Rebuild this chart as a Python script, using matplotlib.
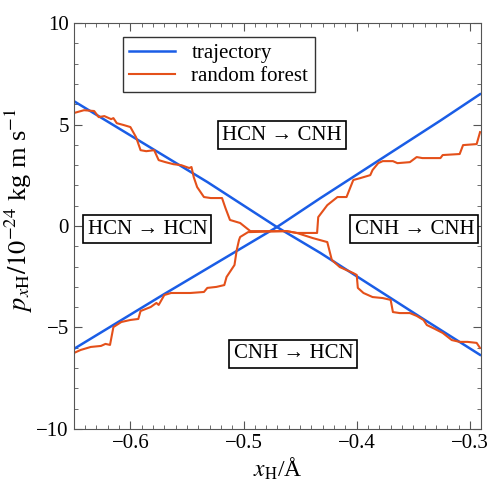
import matplotlib
matplotlib.use('Agg')
import matplotlib.pyplot as plt
from matplotlib.ticker import MultipleLocator

plt.rcParams['font.family'] = ['Liberation Serif', 'DejaVu Serif']
plt.rcParams['mathtext.fontset'] = 'stix'

# trajectory (straight-ish lines)
traj1_x = [-0.65, -0.532, -0.4705, -0.432, -0.344, -0.291]
traj1_y = [6.16, 2.17, -0.05, -1.33, -4.48, -6.35]
traj2_x = [-0.65, -0.570, -0.4705, -0.432, -0.326, -0.291]
traj2_y = [-6.06, -3.35, -0.05, 1.38, 5.2, 6.5]

# random forest predictions
rf1_x = [-0.650, -0.641, -0.632, -0.628, -0.623, -0.617, -0.615, -0.612, -0.606, -0.600,
         -0.595, -0.591, -0.586, -0.579, -0.575, -0.569, -0.562, -0.555, -0.548, -0.546,
         -0.544, -0.541, -0.535, -0.529, -0.519, -0.516, -0.512, -0.503, -0.494, -0.462,
         -0.453, -0.439, -0.426, -0.422, -0.415, -0.409, -0.403, -0.400, -0.399, -0.394,
         -0.386, -0.377, -0.370, -0.368, -0.362, -0.353, -0.347, -0.341, -0.338, -0.331,
         -0.324, -0.316, -0.309, -0.302, -0.294, -0.291]
rf1_y = [5.57, 5.71, 5.67, 5.37, 5.42, 5.27, 5.32, 5.07, 4.98, 4.88,
         4.38, 3.74, 3.69, 3.74, 3.25, 3.15, 3.05, 3.00, 2.86, 2.91,
         2.41, 1.92, 1.43, 1.38, 1.38, 0.89, 0.30, 0.15, -0.25, -0.25,
         -0.34, -0.59, -0.79, -1.67, -2.02, -2.17, -2.32, -2.41, -3.05, -3.30,
         -3.50, -3.55, -3.64, -4.24, -4.29, -4.29, -4.43, -4.63, -4.88, -5.07,
         -5.27, -5.62, -5.71, -5.71, -5.76, -6.01]

rf2_x = [-0.650, -0.644, -0.635, -0.626, -0.622, -0.618, -0.615, -0.608, -0.600, -0.593,
         -0.591, -0.582, -0.577, -0.575, -0.570, -0.564, -0.559, -0.547, -0.535, -0.532,
         -0.524, -0.517, -0.515, -0.508, -0.506, -0.504, -0.503, -0.496, -0.462, -0.453,
         -0.435, -0.434, -0.426, -0.417, -0.409, -0.403, -0.397, -0.388, -0.386, -0.381,
         -0.377, -0.368, -0.364, -0.353, -0.347, -0.342, -0.326, -0.324, -0.309, -0.306,
         -0.294, -0.291]
rf2_y = [-6.26, -6.11, -5.96, -5.91, -5.81, -5.86, -4.98, -4.73, -4.63, -4.58,
         -4.19, -3.99, -3.79, -3.89, -3.40, -3.30, -3.30, -3.30, -3.25, -3.05,
         -3.00, -2.91, -2.51, -1.92, -1.18, -0.69, -0.54, -0.30, -0.25, -0.34,
         -0.34, 0.44, 1.03, 1.43, 1.43, 2.27, 2.36, 2.51, 2.76, 3.10,
         3.20, 3.20, 3.10, 3.15, 3.40, 3.35, 3.35, 3.50, 3.55, 3.99,
         4.04, 4.63]

regions = ['HCN → CNH', 'HCN → HCN', 'CNH → CNH', 'CNH → HCN']
region_x = [-0.466, -0.585, -0.349, -0.456]
region_y = [4.48, -0.15, -0.15, -6.3]

blue = '#1a5de6'
orange = '#e4501a'
grey = '#555555'

fig = plt.figure(figsize=(4.92, 4.83), dpi=100)
ax = fig.add_axes([0.150, 0.112, 0.828, 0.840])

ax.plot(traj1_x, traj1_y, color=blue, lw=1.8, label='trajectory')
ax.plot(traj2_x, traj2_y, color=blue, lw=1.8)
ax.plot(rf1_x, rf1_y, color=orange, lw=1.5, label='random forest')
ax.plot(rf2_x, rf2_y, color=orange, lw=1.5)

for t, x, y in zip(regions, region_x, region_y):
    ax.text(x, y, t, fontsize=15, ha='center', va='center',
            bbox=dict(boxstyle='square,pad=0.2', fc='white', ec='black', lw=1.2))

ax.set_xlim(-0.65, -0.29)
ax.set_ylim(-10, 10)
ax.set_xticks([-0.6, -0.5, -0.4, -0.3])
ax.set_yticks([-10, -5, 0, 5, 10])
ax.xaxis.set_minor_locator(MultipleLocator(0.01))
ax.yaxis.set_minor_locator(MultipleLocator(1))
ax.tick_params(which='both', direction='in', top=True, right=True, colors=grey,
               labelcolor='black', labelsize=15)
ax.tick_params(which='major', length=6)
ax.tick_params(which='minor', length=3)
for s in ax.spines.values():
    s.set_color(grey)

ax.set_xlabel(r'$x_{\mathrm{H}}$/Å', fontsize=17, labelpad=2)
ax.set_ylabel(r'$p_{x\mathrm{H}}/10^{-24}$ kg m s$^{-1}$', fontsize=19)
ax.yaxis.set_label_coords(-0.095, 0.54)

leg = ax.legend(loc='upper left', bbox_to_anchor=(0.12, 0.965), borderaxespad=0,
                fontsize=15, fancybox=False, framealpha=1, edgecolor='#333333',
                handlelength=2.2, borderpad=0.3, labelspacing=0.15)
leg.get_frame().set_linewidth(1.0)

fig.savefig('out.png')
